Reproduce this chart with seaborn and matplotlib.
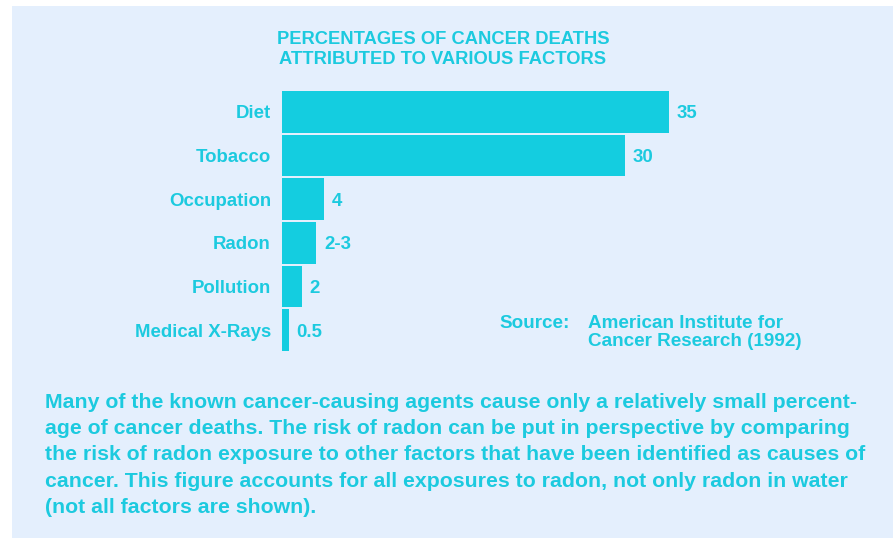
import matplotlib
matplotlib.use('Agg')
import matplotlib.pyplot as plt
import seaborn as sns
import pandas as pd
from matplotlib.patches import Rectangle

factors = ['Diet', 'Tobacco', 'Occupation', 'Radon', 'Pollution', 'Medical X-Rays']
bar_values = [35, 31, 3.8, 3.1, 1.8, 0.6]
value_labels = ['35', '30', '4', '2-3', '2', '0.5']

title_lines = ['PERCENTAGES OF CANCER DEATHS', 'ATTRIBUTED TO VARIOUS FACTORS']
source_label = 'Source:'
source_text = 'American Institute for\nCancer Research (1992)'
caption = ('Many of the known cancer-causing agents cause only a relatively small percent-\n'
           'age of cancer deaths. The risk of radon can be put in perspective by comparing\n'
           'the risk of radon exposure to other factors that have been identified as causes of\n'
           'cancer. This figure accounts for all exposures to radon, not only radon in water\n'
           '(not all factors are shown).')

CYAN = '#14cde0'
TEXT = '#1ccadf'
PANEL = '#e4effd'

sns.set_style('white')
plt.rcParams['font.family'] = ['Liberation Sans', 'DejaVu Sans']

W, H = 893, 538
fig = plt.figure(figsize=(W / 100, H / 100), dpi=100)
fig.patch.set_facecolor('white')
fig.patches.append(Rectangle((12 / W, 0), 1 - 12 / W, 1 - 6 / H, transform=fig.transFigure,
                             facecolor=PANEL, edgecolor='none', zorder=-5))

# axes placed in pixel terms: left 282, top 90, bottom 352
ax_left, ax_top, ax_bot = 282, 90, 352
x_max = 50
ax_w = 387 / 35 * x_max
ax = fig.add_axes([ax_left / W, 1 - ax_bot / H, ax_w / W, (ax_bot - ax_top) / H])
ax.set_facecolor('none')
ax.set_zorder(2)

df = pd.DataFrame({'factor': factors, 'value': bar_values})
sns.barplot(data=df, y='factor', x='value', color=CYAN, saturation=1, width=0.96,
            linewidth=0, orient='h', ax=ax)
ax.set_xlim(0, x_max)
ax.set_ylim(len(factors) - 0.5, -0.5)
sns.despine(ax=ax, left=True, bottom=True)
ax.set_xticks([])
ax.set_xlabel('')
ax.set_ylabel('')
ax.tick_params(axis='y', length=0, pad=8)
for t in ax.get_yticklabels():
    t.set_fontweight('bold')
    t.set_fontsize(13.4)
    t.set_color(TEXT)
    t.set_verticalalignment('center_baseline')

for i, (v, lab) in enumerate(zip(bar_values, value_labels)):
    ax.text(v + 0.7, i, lab, va='center_baseline', ha='left', fontsize=13.4,
            fontweight='bold', color=TEXT)

fig.text(443 / W, 1 - 38 / H, title_lines[0], ha='center', va='center_baseline',
         fontsize=13.2, fontweight='bold', color=TEXT)
fig.text(443 / W, 1 - 57 / H, title_lines[1], ha='center', va='center_baseline',
         fontsize=13.2, fontweight='bold', color=TEXT)

fig.text(499 / W, 1 - 322 / H, source_label, ha='left', va='center_baseline',
         fontsize=13.6, fontweight='bold', color=TEXT)
fig.text(588 / W, 1 - 315 / H, source_text, ha='left', va='top',
         fontsize=13.6, fontweight='bold', color=TEXT, linespacing=1.05)

fig.text(45 / W, 1 - 393 / H, caption, ha='left', va='top', fontsize=15.3,
         fontweight='bold', color=TEXT, linespacing=1.48)

fig.savefig('out.png', dpi=100, facecolor=fig.get_facecolor())
plt.close(fig)
